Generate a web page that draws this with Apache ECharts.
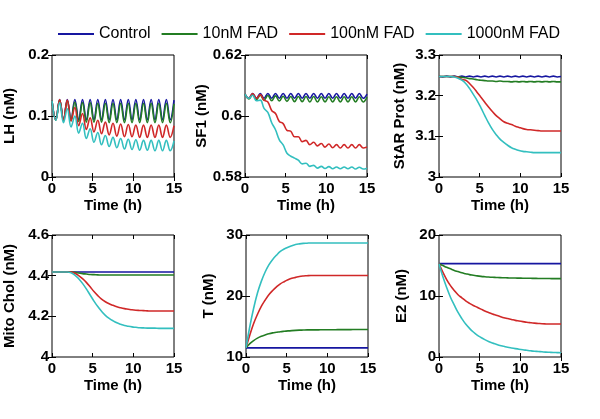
<!DOCTYPE html>
<html>
<head>
<meta charset="utf-8">
<script src="https://cdn.jsdelivr.net/npm/echarts@6/dist/echarts.min.js"></script>
<style>
  html, body { margin: 0; padding: 0; background: #fff; }
  #chart { width: 600px; height: 419px; }
</style>
</head>
<body>
<div id="chart"></div>
<script>
// time grid (h), shared by every panel
var time = [0, 0.47, 0.94, 1.41, 1.88, 2.34, 2.81, 3.28, 3.75, 4.22, 4.69, 5.16, 5.63, 6.09, 6.56, 7.03, 7.5,
  7.97, 8.44, 8.91, 9.38, 9.84, 10.31, 10.78, 11.25, 11.72, 12.19, 12.66, 13.13, 13.59, 14.06, 14.53, 15];

var seriesNames = ['Control', '10nM FAD', '100nM FAD', '1000nM FAD'];
var seriesColors = ['#1616a0', '#237d23', '#d02828', '#33bfbf'];

// LH (nM)
var lhControl = [0.125, 0.094, 0.127, 0.094, 0.127, 0.094, 0.127, 0.094, 0.127, 0.094, 0.127, 0.094, 0.127, 0.094, 0.127, 0.094, 0.127,
  0.094, 0.127, 0.094, 0.127, 0.094, 0.127, 0.094, 0.127, 0.094, 0.127, 0.094, 0.127, 0.094, 0.127, 0.094, 0.126];
var lhGreen = [0.125, 0.093, 0.126, 0.093, 0.125, 0.092, 0.123, 0.091, 0.122, 0.090, 0.122, 0.090, 0.121, 0.090, 0.121, 0.089, 0.121,
  0.089, 0.121, 0.089, 0.121, 0.089, 0.121, 0.089, 0.121, 0.089, 0.121, 0.089, 0.121, 0.089, 0.121, 0.089, 0.120];
var lhRed = [0.125, 0.094, 0.127, 0.094, 0.126, 0.092, 0.114, 0.084, 0.104, 0.078, 0.097, 0.074, 0.093, 0.071, 0.090, 0.069, 0.088,
  0.067, 0.087, 0.066, 0.086, 0.066, 0.085, 0.065, 0.085, 0.065, 0.085, 0.065, 0.085, 0.065, 0.085, 0.065, 0.084];
var lhCyan = [0.125, 0.093, 0.122, 0.089, 0.112, 0.082, 0.100, 0.072, 0.088, 0.063, 0.079, 0.057, 0.073, 0.053, 0.068, 0.050, 0.065,
  0.048, 0.063, 0.046, 0.062, 0.045, 0.061, 0.044, 0.060, 0.044, 0.060, 0.043, 0.060, 0.043, 0.060, 0.043, 0.059];

// SF1 (nM)
var sfControl = [0.6072, 0.6058, 0.6074, 0.6058, 0.6074, 0.6058, 0.6074, 0.6058, 0.6074, 0.6058, 0.6074, 0.6058, 0.6074, 0.6058, 0.6074, 0.6058, 0.6074,
  0.6058, 0.6074, 0.6058, 0.6074, 0.6058, 0.6074, 0.6058, 0.6074, 0.6058, 0.6074, 0.6058, 0.6074, 0.6058, 0.6074, 0.6058, 0.6072];
var sfGreen = [0.6072, 0.6056, 0.6070, 0.6054, 0.6068, 0.6052, 0.6067, 0.6050, 0.6066, 0.6049, 0.6065, 0.6048, 0.6064, 0.6047, 0.6064, 0.6047, 0.6064,
  0.6046, 0.6064, 0.6046, 0.6063, 0.6046, 0.6063, 0.6046, 0.6063, 0.6046, 0.6063, 0.6046, 0.6063, 0.6046, 0.6063, 0.6046, 0.6062];
var sfRed = [0.6072, 0.6058, 0.6074, 0.6058, 0.6070, 0.6052, 0.6046, 0.6018, 0.6008, 0.5982, 0.5975, 0.5953, 0.5950, 0.5932, 0.5932, 0.5916, 0.5920,
  0.5906, 0.5914, 0.5902, 0.5910, 0.5898, 0.5908, 0.5896, 0.5906, 0.5895, 0.5906, 0.5895, 0.5906, 0.5895, 0.5906, 0.5895, 0.5898];
var sfCyan = [0.6072, 0.6058, 0.6068, 0.6050, 0.6052, 0.6025, 0.6012, 0.5978, 0.5955, 0.5922, 0.5905, 0.5878, 0.5868, 0.5862, 0.5855, 0.5843, 0.5845,
  0.5835, 0.5838, 0.5829, 0.5835, 0.5828, 0.5834, 0.5827, 0.5833, 0.5827, 0.5833, 0.5827, 0.5833, 0.5826, 0.5832, 0.5826, 0.5829];

// StAR Prot (nM)
var starControl = [3.247, 3.246, 3.248, 3.246, 3.248, 3.246, 3.248, 3.246, 3.248, 3.246, 3.248, 3.246, 3.248, 3.246, 3.248, 3.246, 3.248,
  3.246, 3.248, 3.246, 3.248, 3.246, 3.248, 3.246, 3.248, 3.246, 3.248, 3.246, 3.248, 3.246, 3.248, 3.246, 3.247];
var starGreen = [3.247, 3.247, 3.247, 3.247, 3.247, 3.246, 3.245, 3.244, 3.242, 3.241, 3.239, 3.238, 3.237, 3.236, 3.236, 3.235, 3.236,
  3.235, 3.235, 3.234, 3.235, 3.234, 3.235, 3.234, 3.235, 3.234, 3.235, 3.234, 3.235, 3.234, 3.235, 3.234, 3.234];
var starRed = [3.247, 3.247, 3.247, 3.247, 3.247, 3.245, 3.240, 3.238, 3.230, 3.220, 3.208, 3.196, 3.184, 3.172, 3.161, 3.151, 3.143,
  3.136, 3.132, 3.129, 3.125, 3.122, 3.119, 3.117, 3.116, 3.115, 3.114, 3.113, 3.113, 3.113, 3.113, 3.113, 3.113];
var starCyan = [3.247, 3.247, 3.247, 3.247, 3.246, 3.243, 3.238, 3.230, 3.218, 3.203, 3.188, 3.170, 3.151, 3.133, 3.117, 3.104, 3.093,
  3.085, 3.078, 3.072, 3.068, 3.065, 3.063, 3.062, 3.061, 3.060, 3.060, 3.060, 3.060, 3.060, 3.060, 3.060, 3.060];

// Mito Chol (nM)
var mitoControl = [4.418, 4.418, 4.418, 4.418, 4.418, 4.418, 4.418, 4.418, 4.418, 4.418, 4.418, 4.418, 4.418, 4.418, 4.418, 4.418, 4.418,
  4.418, 4.418, 4.418, 4.418, 4.418, 4.418, 4.418, 4.418, 4.418, 4.418, 4.418, 4.418, 4.418, 4.418, 4.418, 4.418];
var mitoGreen = [4.418, 4.418, 4.418, 4.418, 4.418, 4.418, 4.416, 4.413, 4.410, 4.408, 4.406, 4.405, 4.404, 4.403, 4.403, 4.403, 4.403,
  4.403, 4.403, 4.403, 4.403, 4.403, 4.403, 4.403, 4.403, 4.403, 4.403, 4.403, 4.403, 4.403, 4.403, 4.403, 4.403];
var mitoRed = [4.418, 4.418, 4.418, 4.418, 4.418, 4.418, 4.412, 4.400, 4.385, 4.367, 4.345, 4.322, 4.302, 4.285, 4.272, 4.262, 4.254,
  4.247, 4.242, 4.238, 4.235, 4.232, 4.230, 4.229, 4.228, 4.227, 4.226, 4.226, 4.226, 4.226, 4.226, 4.226, 4.226];
var mitoCyan = [4.418, 4.418, 4.418, 4.418, 4.418, 4.414, 4.403, 4.385, 4.362, 4.335, 4.305, 4.275, 4.248, 4.225, 4.205, 4.190, 4.178,
  4.168, 4.161, 4.155, 4.151, 4.148, 4.146, 4.144, 4.143, 4.142, 4.142, 4.142, 4.141, 4.141, 4.141, 4.141, 4.141];

// T (nM)
var tControl = [11.5, 11.5, 11.5, 11.5, 11.5, 11.5, 11.5, 11.5, 11.5, 11.5, 11.5, 11.5, 11.5, 11.5, 11.5, 11.5, 11.5,
  11.5, 11.5, 11.5, 11.5, 11.5, 11.5, 11.5, 11.5, 11.5, 11.5, 11.5, 11.5, 11.5, 11.5, 11.5, 11.5];
var tGreen = [11.5, 12.2, 12.7, 13.1, 13.4, 13.6, 13.8, 13.95, 14.05, 14.15, 14.22, 14.28, 14.33, 14.37, 14.4, 14.42, 14.44,
  14.45, 14.45, 14.45, 14.46, 14.46, 14.47, 14.47, 14.48, 14.48, 14.49, 14.49, 14.5, 14.5, 14.5, 14.5, 14.5];
var tRed = [11.5, 13.6, 15.5, 17.0, 18.3, 19.3, 20.2, 20.9, 21.5, 22.0, 22.35, 22.65, 22.9, 23.05, 23.2, 23.28, 23.32,
  23.35, 23.35, 23.35, 23.35, 23.35, 23.35, 23.35, 23.35, 23.35, 23.35, 23.35, 23.35, 23.35, 23.35, 23.35, 23.35];
var tCyan = [11.5, 15.0, 18.0, 20.5, 22.4, 23.9, 25.1, 26.0, 26.7, 27.3, 27.7, 28.0, 28.25, 28.45, 28.55, 28.62, 28.66,
  28.7, 28.7, 28.7, 28.7, 28.7, 28.7, 28.7, 28.7, 28.7, 28.7, 28.7, 28.7, 28.7, 28.7, 28.7, 28.7];

// E2 (nM)
var e2Control = [15.3, 15.3, 15.3, 15.3, 15.3, 15.3, 15.3, 15.3, 15.3, 15.3, 15.3, 15.3, 15.3, 15.3, 15.3, 15.3, 15.3,
  15.3, 15.3, 15.3, 15.3, 15.3, 15.3, 15.3, 15.3, 15.3, 15.3, 15.3, 15.3, 15.3, 15.3, 15.3, 15.3];
var e2Green = [15.3, 15.0, 14.7, 14.45, 14.2, 14.0, 13.8, 13.65, 13.5, 13.4, 13.3, 13.22, 13.16, 13.11, 13.07, 13.04, 13.01,
  12.99, 12.97, 12.95, 12.94, 12.93, 12.92, 12.91, 12.9, 12.89, 12.88, 12.87, 12.86, 12.86, 12.85, 12.85, 12.85];
var e2Red = [15.3, 13.9, 12.7, 11.7, 10.9, 10.2, 9.7, 9.2, 8.8, 8.45, 8.15, 7.85, 7.55, 7.3, 7.05, 6.85, 6.65,
  6.45, 6.3, 6.15, 6.0, 5.9, 5.8, 5.7, 5.62, 5.55, 5.5, 5.45, 5.42, 5.4, 5.4, 5.4, 5.4];
var e2Cyan = [15.3, 13.2, 11.4, 9.8, 8.5, 7.3, 6.3, 5.4, 4.7, 4.1, 3.6, 3.2, 2.85, 2.55, 2.3, 2.1, 1.9,
  1.75, 1.6, 1.48, 1.37, 1.27, 1.18, 1.1, 1.02, 0.95, 0.9, 0.85, 0.8, 0.77, 0.74, 0.72, 0.7];

var panels = [
  { name: 'LH (nM)', min: 0, max: 0.2, interval: 0.1, left: 52, top: 55, gap: 35, data: [lhControl, lhGreen, lhRed, lhCyan] },
  { name: 'SF1 (nM)', min: 0.58, max: 0.62, interval: 0.02, left: 245, top: 55, gap: 35, data: [sfControl, sfGreen, sfRed, sfCyan] },
  { name: 'StAR Prot (nM)', min: 3, max: 3.3, interval: 0.1, left: 439, top: 55, gap: 32, data: [starControl, starGreen, starRed, starCyan] },
  { name: 'Mito Chol (nM)', min: 4, max: 4.6, interval: 0.2, left: 52, top: 235, gap: 35, data: [mitoControl, mitoGreen, mitoRed, mitoCyan] },
  { name: 'T (nM)', min: 10, max: 30, interval: 10, left: 246, top: 235, gap: 30, data: [tControl, tGreen, tRed, tCyan] },
  { name: 'E2 (nM)', min: 0, max: 20, interval: 10, left: 439, top: 235, gap: 30, data: [e2Control, e2Green, e2Red, e2Cyan] }
];

var font = 'Liberation Sans, Arial, sans-serif';
var grids = [], xAxes = [], yAxes = [], series = [];

panels.forEach(function(p, k) {
  grids.push({ left: p.left, top: p.top, width: 122, height: 122, show: true, borderColor: '#000', borderWidth: 1, backgroundColor: '#fff' });
  var tick = { show: true, inside: true, length: 4, lineStyle: { color: '#000' } };
  // bottom / left axes with labels
  xAxes.push({
    gridIndex: k, type: 'value', min: 0, max: 15, interval: 5,
    axisLine: { show: false }, axisTick: tick, splitLine: { show: false },
    axisLabel: { color: '#000', fontFamily: font, fontWeight: 'bold', fontSize: 15, margin: 4 },
    name: 'Time (h)', nameLocation: 'middle', nameGap: 21,
    nameTextStyle: { color: '#000', fontFamily: font, fontWeight: 'bold', fontSize: 15 }
  });
  yAxes.push({
    gridIndex: k, type: 'value', min: p.min, max: p.max, interval: p.interval,
    axisLine: { show: false }, axisTick: tick, splitLine: { show: false },
    axisLabel: { color: '#000', fontFamily: font, fontWeight: 'bold', fontSize: 15, margin: 3 },
    name: p.name, nameLocation: 'middle', nameGap: p.gap, nameRotate: 90,
    nameTextStyle: { color: '#000', fontFamily: font, fontWeight: 'bold', fontSize: 15 }
  });
  // mirrored top / right ticks
  xAxes.push({ gridIndex: k, type: 'value', position: 'top', min: 0, max: 15, interval: 5,
    axisLine: { show: false }, axisTick: tick, axisLabel: { show: false }, splitLine: { show: false } });
  yAxes.push({ gridIndex: k, type: 'value', position: 'right', min: p.min, max: p.max, interval: p.interval,
    axisLine: { show: false }, axisTick: tick, axisLabel: { show: false }, splitLine: { show: false } });

  p.data.forEach(function(vals, s) {
    series.push({
      name: seriesNames[s], type: 'line', xAxisIndex: 2 * k, yAxisIndex: 2 * k,
      data: time.map(function(t, i) { return [t, vals[i]]; }),
      smooth: 0.4, showSymbol: false, silent: true,
      lineStyle: { color: seriesColors[s], width: 1.6 },
      itemStyle: { color: seriesColors[s] }
    });
  });
});

var chart = echarts.init(document.getElementById('chart'));
chart.setOption({
  animation: false,
  backgroundColor: '#fff',
  color: seriesColors,
  legend: {
    data: seriesNames, left: 53, top: 21, icon: 'rect', itemWidth: 36, itemHeight: 2, itemGap: 11,
    textStyle: { color: '#000', fontFamily: font, fontSize: 16, padding: [0, 0, 0, 0] }
  },
  grid: grids,
  xAxis: xAxes,
  yAxis: yAxes,
  series: series
});
</script>
</body>
</html>
